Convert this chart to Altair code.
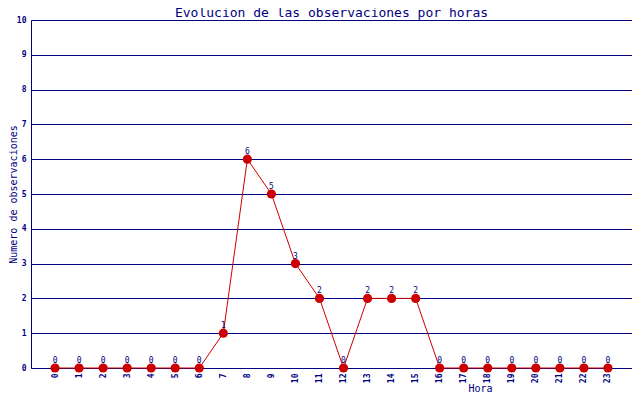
import altair as alt
import pandas as pd

horas = list(range(24))
observaciones = [0, 0, 0, 0, 0, 0, 0, 1, 6, 5, 3, 2, 0, 2, 2, 2, 0, 0, 0, 0, 0, 0, 0, 0]
y_ticks = list(range(11))

df = pd.DataFrame({"hora": horas, "obs": observaciones})

NAVY = "#000080"
RED = "#cc0000"
FONT = "DejaVu Sans Mono"

x_enc = alt.X(
    "hora:Q",
    scale=alt.Scale(domain=[-1, 24], nice=False, zero=False),
    axis=alt.Axis(
        values=horas,
        labelAngle=270,
        grid=False,
        ticks=False,
        labelPadding=5,
        labelFont=FONT,
        labelFontSize=8,
        labelFontWeight="bold",
        labelColor=NAVY,
        domainColor=NAVY,
        title="Hora",
        titleFont=FONT,
        titleFontSize=10,
        titleFontWeight="normal",
        titleColor=NAVY,
        titleX=449,
        titleY=20,
        titleBaseline="middle",
        titleAlign="center",
        labelFlush=False,
        labelOverlap=False,
    ),
)
y_enc = alt.Y(
    "obs:Q",
    scale=alt.Scale(domain=[0, 10], nice=False),
    axis=alt.Axis(
        values=y_ticks,
        grid=True,
        gridColor=NAVY,
        gridOpacity=1,
        gridWidth=1,
        ticks=False,
        labelPadding=5,
        labelFont=FONT,
        labelFontSize=8,
        labelFontWeight="bold",
        labelColor=NAVY,
        domainColor=NAVY,
        title="Numero de observaciones",
        titleFont=FONT,
        titleFontSize=10,
        titleFontWeight="normal",
        titleColor=NAVY,
        titleX=-18,
        titleY=174,
        titleAngle=270,
        titleBaseline="middle",
        titleAlign="center",
        labelFlush=False,
        labelOverlap=False,
    ),
)

base = alt.Chart(df).encode(x=x_enc, y=y_enc)
line = base.mark_line(color=RED, strokeWidth=1)
points = base.mark_circle(color=RED, size=85, opacity=1)
labels = base.mark_text(
    font=FONT, fontSize=8, color=NAVY, baseline="alphabetic", dy=-5
).encode(text="obs:Q")

chart = (
    alt.layer(line, points, labels)
    .properties(
        width=601,
        height=348,
        autosize=alt.AutoSizeParams(type="none"),
        padding={"left": 23, "top": 12, "right": 0, "bottom": 24},
        title=alt.Title(
            "Evolucion de las observaciones por horas",
            font=FONT,
            fontSize=13,
            fontWeight="normal",
            color=NAVY,
            anchor="middle",
            offset=-4,
        ),
    )
    .configure_view(stroke=NAVY, strokeWidth=1)
    .configure(background="white")
)

chart.save("out.html", embed_options={"renderer": "svg", "actions": False})
